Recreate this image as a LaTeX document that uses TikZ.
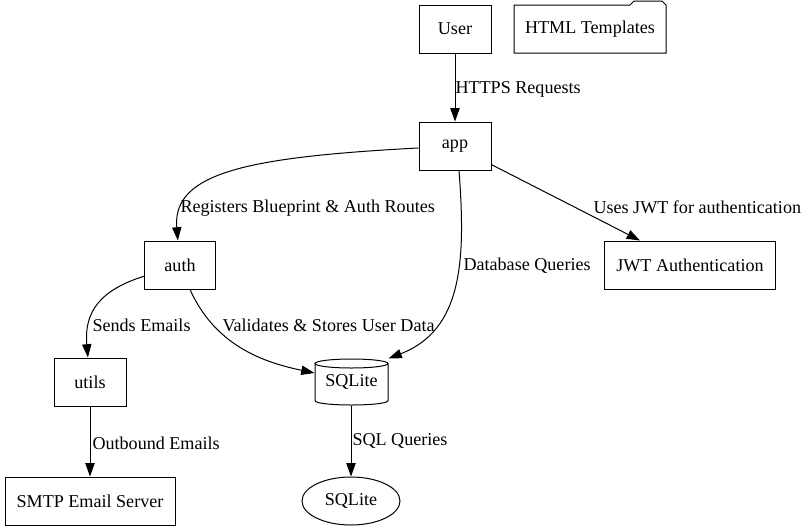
\documentclass[tikz,border=0pt]{standalone}
\usepackage{fontspec}
\setmainfont{Liberation Serif}
\usetikzlibrary{arrows.meta,shapes.geometric}
\begin{document}
\begin{tikzpicture}[x=1pt,y=-1pt,
  font=\fontsize{18.1}{21}\selectfont,
  line width=1pt,
  box/.style={draw, minimum height=48pt, inner sep=0pt},
  plain/.style={minimum height=48pt, inner sep=0pt},
  lbl/.style={anchor=west, inner sep=0pt},
  edge/.style={-{Triangle[length=13.3pt,width=9.3pt]}}]
\useasboundingbox (0,0) rectangle (807,531);
% nodes
\node[box, minimum width=72pt] (user) at (455,29) {User};
\node[plain, minimum width=152pt] (tpl) at (590,29) {HTML Templates};
\draw (514,5) -- (630,5) -- (634,1) -- (662,1) -- (666,5) -- (666,53) -- (514,53) -- cycle;
\node[box, minimum width=72pt] (app) at (455,146) {app};
\node[box, minimum width=71pt] (auth) at (180,265) {auth};
\node[box, minimum width=171pt] (jwt) at (690,265) {JWT Authentication};
\node[box, minimum width=72pt] (utils) at (90,382) {utils};
\node[plain, minimum width=73pt, minimum height=46pt] (db) at (351.5,382) {SQLite};
\draw (351.5,363.5) ellipse [x radius=36.5pt, y radius=4.5pt];
\draw (315,363.5) -- (315,400.5) .. controls (315,406.5) and (388,406.5) .. (388,400.5) -- (388,363.5);
\node[box, minimum width=170pt] (smtp) at (90,501) {SMTP Email Server};
\node[draw, ellipse, minimum width=98pt, minimum height=48pt, inner sep=0pt] (sq) at (351,501) {SQLite};
% edges
\draw[edge] (user) -- (app);
\node[lbl] (l1) at (455,89) {HTTPS Requests};
\draw[edge] (app) .. controls (250,157) and (172,172) .. (auth);
\node[lbl] (l2) at (180,208) {Registers Blueprint \& Auth Routes};
\draw[edge] (app) -- (jwt.north west -| 640,241);
\node[lbl] (l3) at (593,207) {Uses JWT for authentication};
\draw[edge] (app.south -| 459,170) .. controls (466,262) and (462,330) .. (db.north east);
\node[lbl] (l4) at (463,266) {Database Queries};
\draw[edge] (auth) .. controls (100,290) and (84,312) .. (utils);
\node[lbl] (l5) at (92,325) {Sends Emails};
\draw[edge] (auth.south -| 190,289) .. controls (215,345) and (262,362) .. (db.west |- 315,373);
\node[lbl] (l6) at (222,325) {Validates \& Stores User Data};
\draw[edge] (utils) -- (smtp);
\node[lbl] (l7) at (92,443) {Outbound Emails};
\draw[edge] (db.south -| sq.north) -- (sq);
\node[lbl] (l8) at (352,441) {SQL Queries};
\end{tikzpicture}
\end{document}
